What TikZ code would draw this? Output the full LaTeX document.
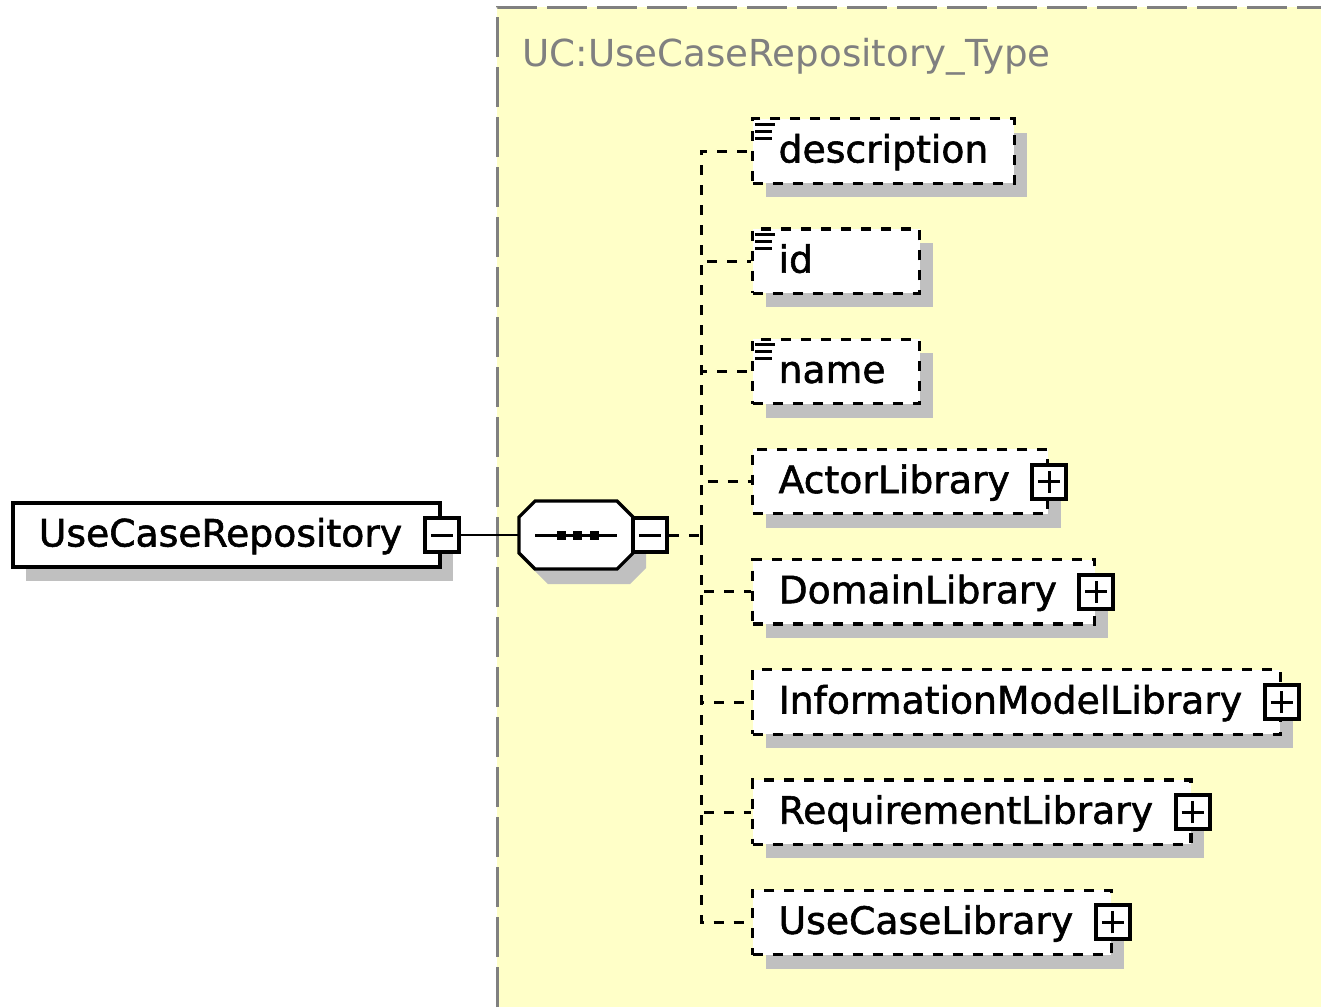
\documentclass[tikz,border=0pt]{standalone}
\usepackage{fontspec}
\setmainfont{DejaVu Sans}
\newfontfamily\labelfont{DejaVu Sans}[FakeBold=1.5]
\usetikzlibrary{positioning,shadows}

\definecolor{typefill}{HTML}{FFFFC8}
\definecolor{shadowgray}{HTML}{C0C0C0}
\definecolor{typegray}{HTML}{808080}

% three little lines in the corner of a simple-typed element
\newcommand{\simpletype}[1]{%
    \draw[line width=1.3pt] ([shift={(4,7)}]#1.north west) -- ++(20,0)
        ([shift={(4,14)}]#1.north west) -- ++(17,0)
        ([shift={(4,21)}]#1.north west) -- ++(17,0);}

\begin{document}
\begin{tikzpicture}[x=0.5pt,y=-0.5pt]
    \tikzstyle{every node}=[font=\labelfont\fontsize{18.86}{22}\selectfont]
    \tikzstyle{shadowed}=[general shadow={fill=shadowgray,shadow xshift=6.5pt,shadow yshift=-7pt}]
    \tikzstyle{element}=[draw,fill=white,shadowed,line width=1.8pt,
        minimum height=32.2pt,text height=15pt,text depth=3.5pt,
        inner xsep=13pt,anchor=west]
    \tikzstyle{optional}=[element,line width=1.6pt,dash pattern=on 5pt off 5pt]
    \tikzstyle{short}=[text width=57.5pt]
    \tikzstyle{haschildren}=[execute at end node={\hspace{6pt}}]
    \tikzstyle{expander}=[draw,fill=white,line width=2pt,minimum size=17pt,inner sep=0pt,
        general shadow={fill=black,shadow xshift=1pt,shadow yshift=-1pt}]
    \tikzstyle{minusbox}=[expander,path picture={
        \draw[line width=1.5pt] ([xshift=-5.5pt]path picture bounding box.center)
            -- ([xshift=5.5pt]path picture bounding box.center);}]
    \tikzstyle{plusbox}=[expander,path picture={
        \draw[line width=1.5pt] ([xshift=-5.5pt]path picture bounding box.center)
            -- ([xshift=5.5pt]path picture bounding box.center)
            ([yshift=-5.5pt]path picture bounding box.center)
            -- ([yshift=5.5pt]path picture bounding box.center);}]
    \tikzstyle{seqbox}=[minimum width=57pt,minimum height=34pt,inner sep=0pt,outer sep=0pt]
    \tikzstyle{typename}=[font=\fontsize{18.6}{22}\selectfont,text=typegray,inner sep=0pt,anchor=base west]
    \tikzstyle{conn}=[line width=1.5pt,dash pattern=on 5pt off 5pt]
    \tikzstyle{link}=[line width=1.3pt]

    \useasboundingbox (0,0) rectangle (1321,1007);

    % the complex type
    \fill[typefill] (497,7) rectangle (1321,1007);
    \draw[typegray,line width=1.5pt,dash pattern=on 20pt off 5pt] (497,1007) -- (497,7) -- (1321,7);
    \node[typename] (typetitle) at (522,66) {UC:UseCaseRepository\_Type};

    \node[element,haschildren] (repo) at (11,535) {UseCaseRepository};
    \node[minusbox] (repominus) at (repo.east) {};

    % sequence compositor
    \node[seqbox] (seq) at (576,535) {};
    \fill[shadowgray] ([shift={(13,15)}]seq.center) +(-41,-34) -- +(41,-34) -- +(57,-18) -- +(57,18)
        -- +(41,34) -- +(-41,34) -- +(-57,18) -- +(-57,-18) -- cycle;
    \filldraw[fill=white,line width=1.6pt] (seq.center) +(-41,-34) -- +(41,-34) -- +(57,-18) -- +(57,18)
        -- +(41,34) -- +(-41,34) -- +(-57,18) -- +(-57,-18) -- cycle;
    \draw[line width=1.5pt] ([xshift=-20.5pt]seq.center) -- ([xshift=20.5pt]seq.center);
    \foreach \dx in {-16.5,0,16.5}
        \fill ([xshift=\dx*0.5pt+0.75pt]seq.center) +(-4.5,-4.5) rectangle +(4.5,4.5);
    \node[minusbox,right=-1pt of seq] (seqminus) {};

    \node[optional] (desc) at (751,151) {description};
    \node[optional,short,below=21.3pt of desc.south west,anchor=north west] (id) {id};
    \node[optional,short,below=21.3pt of id.south west,anchor=north west] (name) {name};
    \node[optional,haschildren,below=21.3pt of name.south west,anchor=north west] (actor) {ActorLibrary};
    \node[optional,haschildren,below=21.3pt of actor.south west,anchor=north west] (domain) {DomainLibrary};
    \node[optional,haschildren,below=21.3pt of domain.south west,anchor=north west] (infomodel) {InformationModelLibrary};
    \node[optional,haschildren,below=21.3pt of infomodel.south west,anchor=north west] (requirement) {RequirementLibrary};
    \node[optional,haschildren,below=21.3pt of requirement.south west,anchor=north west] (usecase) {UseCaseLibrary};
    \simpletype{desc} \simpletype{id} \simpletype{name}

    \node[plusbox] (actorplus) at (actor.east) {};
    \node[plusbox] (domainplus) at (domain.east) {};
    \node[plusbox] (infomodelplus) at (infomodel.east) {};
    \node[plusbox] (requirementplus) at (requirement.east) {};
    \node[plusbox] (usecaseplus) at (usecase.east) {};

    \path (desc.west |- seq.center) ++(-50,0) coordinate (fork);
    \draw[link] (repominus) -- (seq);
    \draw[conn] (seqminus) -- (fork);
    \foreach \child in {desc,id,name,actor,domain,infomodel,requirement,usecase}
        \draw[conn] (fork) |- (\child);
\end{tikzpicture}
\end{document}
